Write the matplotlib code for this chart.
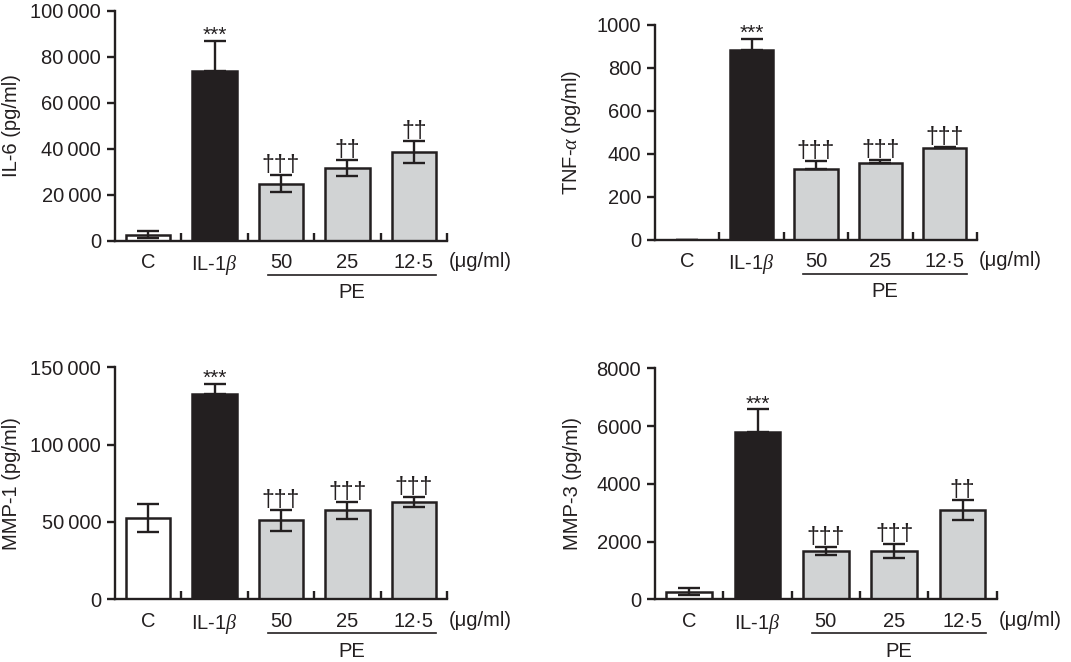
import matplotlib
matplotlib.use("Agg")
import matplotlib.pyplot as plt
import matplotlib.ticker as mtick
import matplotlib.transforms as mtrans

plt.rcParams['font.family'] = ['Liberation Sans', 'DejaVu Sans']
plt.rcParams['mathtext.fontset'] = 'custom'
plt.rcParams['mathtext.it'] = 'Liberation Serif:italic'
plt.rcParams['mathtext.rm'] = 'Liberation Sans'

groups = ['C', r'IL-1$\beta$', '50', '25', '12·5']

il6 = [2800, 74000, 24900, 31700, 38700]
il6_err = [1500, 13000, 3800, 3600, 4700]
il6_marks = ['', '***', '†††', '††', '††']

tnf = [0, 884, 332, 358, 428]
tnf_err = [0, 50, 35, 15, 6]
tnf_marks = ['', '***', '†††', '†††', '†††']

mmp1 = [52400, 132500, 51000, 57700, 62900]
mmp1_err = [9000, 7000, 7000, 5500, 3200]
mmp1_marks = ['', '***', '†††', '†††', '†††']

mmp3 = [270, 5780, 1680, 1680, 3090]
mmp3_err = [110, 800, 130, 240, 360]
mmp3_marks = ['', '***', '†††', '†††', '††']

ink = '#231f20'
fills = ['white', ink, '#d1d3d4', '#d1d3d4', '#d1d3d4']


def fmt(v, pos):
  v = int(round(v))
  if v >= 10000:
    return '{:,}'.format(v).replace(',', '\u2009')
  return str(v)


def panel(fig, rect, vals, errs, marks, ylabel, ymax, ystep, up_only, ylab_x):
  ax = fig.add_axes(rect)
  xs = list(range(len(vals)))
  if vals[0] > 0:
    ax.bar(xs, vals, width=0.67, color=fills, edgecolor=ink, linewidth=1.8, zorder=2)
  else:
    ax.bar(xs[1:], vals[1:], width=0.67, color=fills[1:], edgecolor=ink, linewidth=1.8, zorder=2)
  lo = [0 if (up_only or i == 1) else e for i, e in enumerate(errs)]
  ax.errorbar(xs, vals, yerr=[lo, errs], fmt='none', ecolor=ink, elinewidth=1.7,
              capsize=8, capthick=1.7, zorder=3)
  for x, v, e, m in zip(xs, vals, errs, marks):
    if m:
      if m.startswith('*'):
        size, dy = 15, -3
      else:
        size, dy = 16.5, -1.5
      ax.annotate(m, (x, v + e), xytext=(0, dy), textcoords='offset points',
                  ha='center', va='bottom', fontsize=size, color=ink)

  ax.set_xlim(-0.5, 4.5)
  ax.set_ylim(0, ymax)
  ax.set_yticks(range(0, ymax + 1, ystep))
  ax.yaxis.set_major_formatter(mtick.FuncFormatter(fmt))
  ax.set_xticks(xs)
  ax.set_xticklabels(groups)
  ax.set_xticks([0.5, 1.5, 2.5, 3.5, 4.5], minor=True)
  ax.tick_params(axis='x', which='major', length=0, pad=9, labelsize=14.5, colors=ink)
  ax.tick_params(axis='x', which='minor', direction='in', length=6, width=1.7, color=ink)
  ax.tick_params(axis='y', direction='out', length=6, width=1.7, pad=4, labelsize=14.5, colors=ink)
  for s in ['top', 'right']:
    ax.spines[s].set_visible(False)
  for s in ['left', 'bottom']:
    ax.spines[s].set_linewidth(1.7)
    ax.spines[s].set_color(ink)

  ax.set_ylabel(ylabel, fontsize=14.5, color=ink)
  ax.yaxis.set_label_coords(ylab_x, 0.5)

  base = mtrans.blended_transform_factory(ax.transData, ax.transAxes)
  t_unit = base + mtrans.ScaledTranslation(0, -0.21, fig.dpi_scale_trans)
  ax.text(4.53, 0, '(\u03bcg/ml)', transform=t_unit, ha='left', va='center',
          fontsize=14.5, color=ink)
  t_line = base + mtrans.ScaledTranslation(0, -0.34, fig.dpi_scale_trans)
  ax.plot([1.8, 4.34], [0, 0], color=ink, linewidth=1.2, transform=t_line, clip_on=False)
  t_pe = base + mtrans.ScaledTranslation(0, -0.52, fig.dpi_scale_trans)
  ax.text(3.07, 0, 'PE', transform=t_pe, ha='center', va='center', fontsize=14.5, color=ink)
  return ax


fig = plt.figure(figsize=(10.71, 6.62), dpi=100)

panel(fig, [0.1074, 0.6360, 0.3100, 0.3474], il6, il6_err, il6_marks,
      'IL-6 (pg/ml)', 100000, 20000, False, -0.283)
panel(fig, [0.6116, 0.6375, 0.3006, 0.3248], tnf, tnf_err, tnf_marks,
      r'TNF-$\alpha$ (pg/ml)', 1000, 200, True, -0.224)
panel(fig, [0.1074, 0.0947, 0.3100, 0.3505], mmp1, mmp1_err, mmp1_marks,
      'MMP-1 (pg/ml)', 150000, 50000, False, -0.283)
panel(fig, [0.6116, 0.0947, 0.3190, 0.3490], mmp3, mmp3_err, mmp3_marks,
      'MMP-3 (pg/ml)', 8000, 2000, False, -0.213)

fig.savefig('out.png', dpi=100)
